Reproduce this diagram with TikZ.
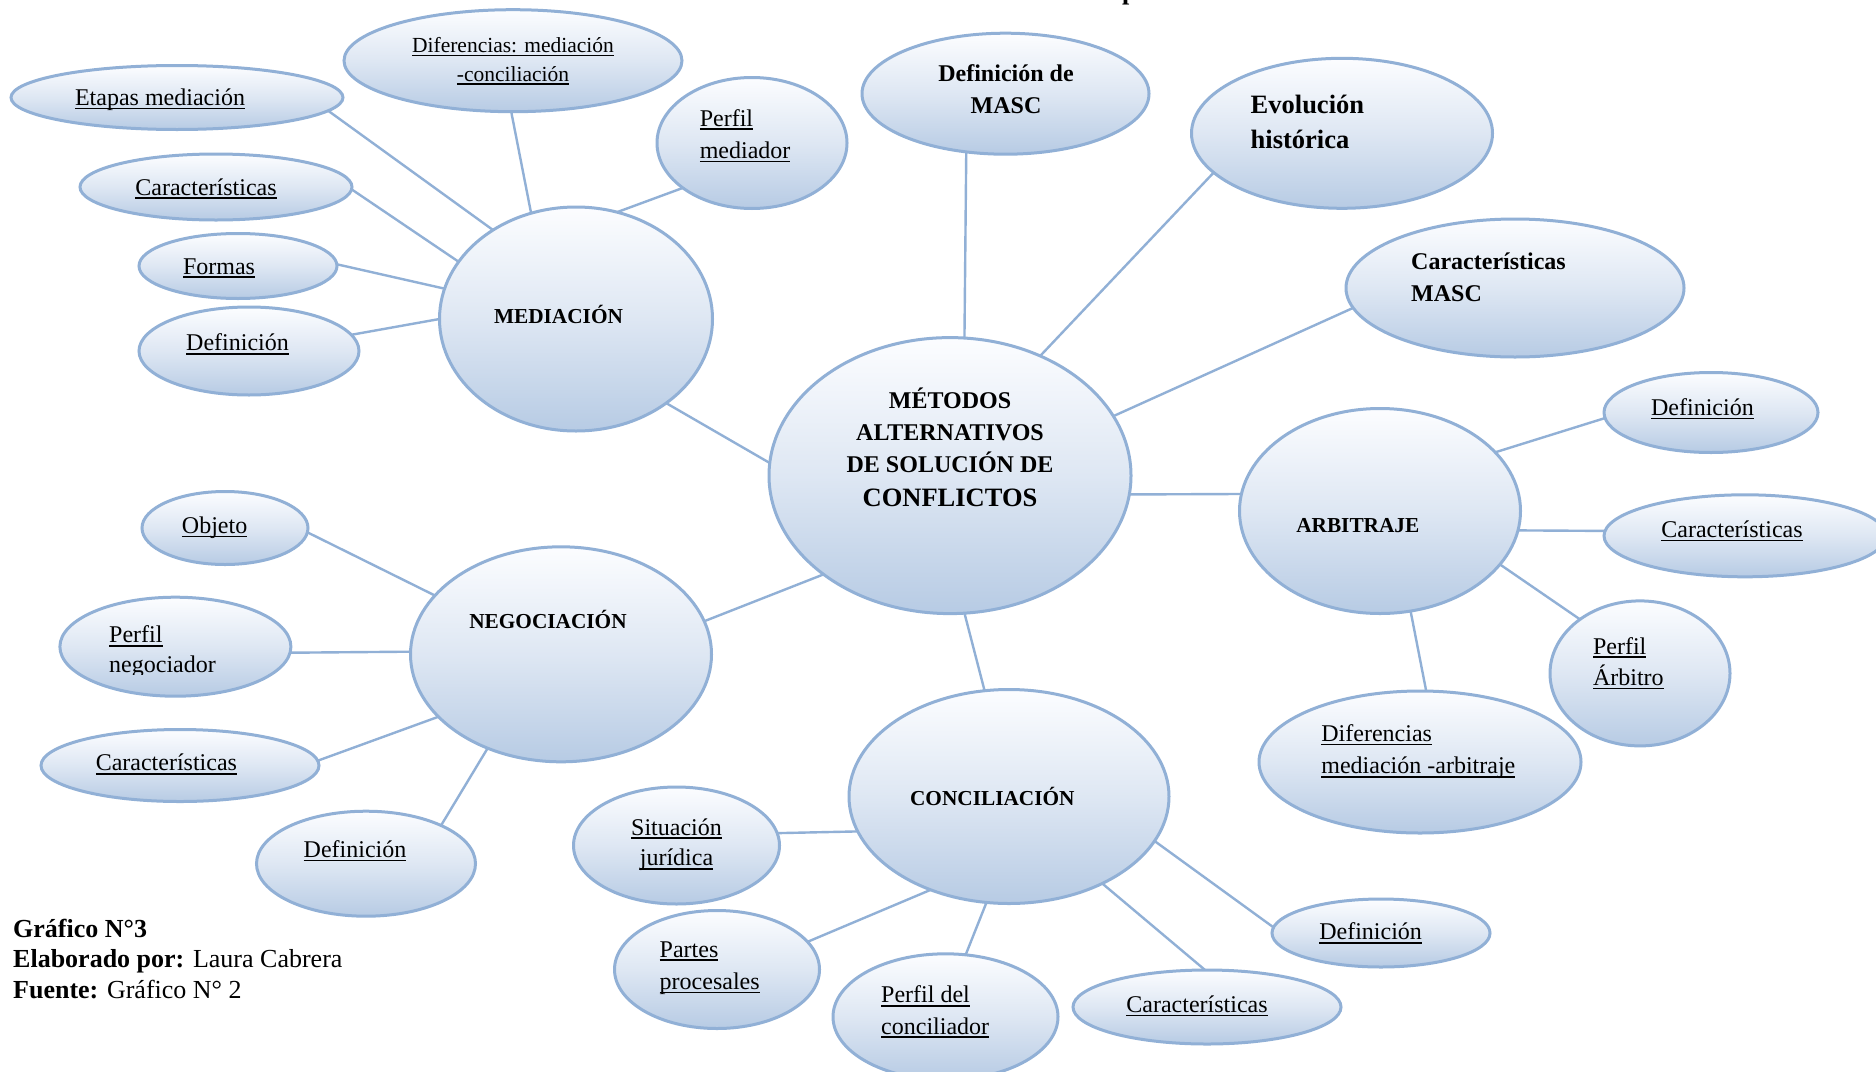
\documentclass[tikz,border=0pt]{standalone}
\usepackage{fontspec}
\setmainfont{Liberation Serif}
\usetikzlibrary{shapes.geometric}
\definecolor{bborder}{RGB}{145,176,214}
\definecolor{btop}{RGB}{252,253,255}
\definecolor{bmid}{RGB}{222,231,243}
\definecolor{bbot}{RGB}{183,203,228}
\newsavebox\ulbox
\newcommand\ulx[1]{\sbox\ulbox{#1}\rlap{\rule[-4pt]{\wd\ulbox}{1.8pt}}\usebox\ulbox}
\newcommand\sz[2]{\fontsize{#1}{#2}\selectfont}
\newcommand\mlines[2]{\begin{tabular}[t]{@{}#1@{}}#2\end{tabular}}
\begin{document}
\begin{tikzpicture}[x=1pt,y=-1pt,
  bub/.style={ellipse, draw=bborder, line width=3pt, top color=btop, bottom color=bbot, middle color=bmid, inner sep=0pt, outer sep=0pt},
  conn/.style={draw=bborder, line width=2.4pt},
  lab/.style={inner sep=0pt, font=\sz{24}{32}},
  blab/.style={inner sep=0pt, font=\sz{21.3}{32}\bfseries}]
\useasboundingbox (0,0) rectangle (1876,1071);
\fill[white] (0,0) rectangle (1876,1071);

% title remnant
\node[inner sep=0pt, anchor=base west, font=\sz{26}{30}\bfseries] (ttl) at (1122,-1) {p};

% bubbles
\node[bub, minimum width=332pt, minimum height=64pt] (etapas) at (177,97.5) {};
\node[bub, minimum width=338pt, minimum height=102pt] (difmc) at (513,60.7) {};
\node[bub, minimum width=190pt, minimum height=131pt] (perfmed) at (752,143) {};
\node[bub, minimum width=272pt, minimum height=66pt] (carmed) at (216,187) {};
\node[bub, minimum width=198pt, minimum height=65pt] (formas) at (238,266) {};
\node[bub, minimum width=220pt, minimum height=88pt] (defmed) at (249,351) {};
\node[bub, minimum width=273pt, minimum height=224pt] (med) at (576,319) {};
\node[bub, minimum width=287pt, minimum height=121pt] (defmasc) at (1005.5,93.7) {};
\node[bub, minimum width=301pt, minimum height=150pt] (evol) at (1342,133.3) {};
\node[bub, minimum width=338pt, minimum height=138pt] (carmasc) at (1515,288) {};
\node[bub, minimum width=362pt, minimum height=276pt] (main) at (950,475.6) {};
\node[bub, minimum width=281pt, minimum height=205pt] (arb) at (1380,511) {};
\node[bub, minimum width=214pt, minimum height=80pt] (defarb) at (1711,412.5) {};
\node[bub, minimum width=282pt, minimum height=82pt] (cararb) at (1745,535.8) {};
\node[bub, minimum width=180pt, minimum height=145pt] (perfarb) at (1640,673.4) {};
\node[bub, minimum width=322pt, minimum height=142pt] (difarb) at (1420,762) {};
\node[bub, minimum width=320pt, minimum height=214pt] (conc) at (1009,796.5) {};
\node[bub, minimum width=218pt, minimum height=68pt] (defconc) at (1381,933) {};
\node[bub, minimum width=268pt, minimum height=74pt] (carconc) at (1207,1007) {};
\node[bub, minimum width=225pt, minimum height=126pt] (perfconc) at (945.5,1016.8) {};
\node[bub, minimum width=205pt, minimum height=118pt] (partes) at (717,969.5) {};
\node[bub, minimum width=206pt, minimum height=117pt] (sit) at (676.5,845.5) {};
\node[bub, minimum width=301pt, minimum height=215pt] (neg) at (561,654.3) {};
\node[bub, minimum width=166pt, minimum height=73pt] (objeto) at (225,528) {};
\node[bub, minimum width=231pt, minimum height=99pt] (perfneg) at (175.4,646.7) {};
\node[bub, minimum width=278pt, minimum height=72pt] (carneg) at (180,765.5) {};
\node[bub, minimum width=219pt, minimum height=105pt] (defneg) at (366,863.7) {};

% connectors
\draw[conn] (main.84) -- (defmasc.236);
\draw[conn] (main.53) -- (evol.197);
\draw[conn] (main.20) -- (carmasc.187);
\draw[conn] (main.-6) -- (arb.173);
\draw[conn] (main.-84) -- (conc.103);
\draw[conn] (main.218) -- (neg.13);
\draw[conn] (main.176) -- (med.-43);
\draw[conn] (med.133) -- (etapas.-5);
\draw[conn] (med.113) -- (difmc.268);
\draw[conn] (med.69) -- (perfmed.213);
\draw[conn] (med.154) -- (carmed.-1);
\draw[conn] (med.167) -- (formas.1);
\draw[conn] (med.180) -- (defmed.9);
\draw[conn] (neg.155) -- (objeto.-3);
\draw[conn] (neg.179) -- (perfneg.-3);
\draw[conn] (neg.207) -- (carneg.2);
\draw[conn] (neg.232) -- (defneg.27);
\draw[conn] (arb.27) -- (defarb.183);
\draw[conn] (arb.-8) -- (cararb.178);
\draw[conn] (arb.-24) -- (perfarb.138);
\draw[conn] (arb.-73) -- (difarb.85);
\draw[conn] (conc.193) -- (sit.7);
\draw[conn] (conc.230) -- (partes.17);
\draw[conn] (conc.258) -- (perfconc.72);
\draw[conn] (conc.-43) -- (carconc.93);
\draw[conn] (conc.-17) -- (defconc.177);

% labels
\node[lab, anchor=base] (tEtapas) at (160,105.3) {\ulx{Etapas mediación}};
\node[lab, anchor=base, font=\sz{21.5}{28.7}] (tDifmc) at (513,52.3) {\mlines{c}{\ulx{Diferencias: mediación}\\\ulx{-conciliación}}};
\node[lab, anchor=base west, font=\sz{24}{32.3}] (tPerfmed) at (699.6,126) {\mlines{l}{\ulx{Perfil}\\\ulx{mediador}}};
\node[lab, anchor=base] (tCarmed) at (206,195) {\ulx{Características}};
\node[lab, anchor=base] (tFormas) at (219,274) {\ulx{Formas}};
\node[lab, anchor=base] (tDefmed) at (237.5,350.7) {\ulx{Definición}};
\node[blab, anchor=base] (tMed) at (558.5,323.3) {MEDIACIÓN};
\node[lab, anchor=base, font=\sz{24}{31.6}\bfseries] (tDefmasc) at (1006,81.7) {\mlines{c}{Definición de\\MASC}};
\node[lab, anchor=base west, font=\sz{26.5}{35}\bfseries] (tEvol) at (1250.5,113.3) {\mlines{l}{Evolución\\histórica}};
\node[lab, anchor=base west, font=\sz{24}{31.7}\bfseries] (tCarmasc) at (1411,269.3) {\mlines{l}{Características\\MASC}};
\node[lab, anchor=base, font=\sz{24}{32}\bfseries] (tMain) at (950,408.6) {\mlines{c}{MÉTODOS\\ALTERNATIVOS\\DE SOLUCIÓN DE\\[2pt]{\sz{26.5}{32}\bfseries CONFLICTOS}}};
\node[blab, anchor=base] (tArb) at (1357.8,532) {ARBITRAJE};
\node[lab, anchor=base] (tDefarb) at (1702.4,415.3) {\ulx{Definición}};
\node[lab, anchor=base] (tCararb) at (1732,537.3) {\ulx{Características}};
\node[lab, anchor=base west, font=\sz{24}{31.4}] (tPerfarb) at (1592.8,654) {\mlines{l}{\ulx{Perfil}\\\ulx{Árbitro}}};
\node[lab, anchor=base west, font=\sz{24}{32.2}] (tDifarb) at (1321.2,741.4) {\mlines{l}{\ulx{Diferencias}\\\ulx{mediación -arbitraje}}};
\node[blab, anchor=base] (tConc) at (992.3,805.3) {CONCILIACIÓN};
\node[lab, anchor=base] (tDefconc) at (1370.6,939.7) {\ulx{Definición}};
\node[lab, anchor=base] (tCarconc) at (1197,1012.4) {\ulx{Características}};
\node[lab, anchor=base west, font=\sz{24}{31.3}] (tPerfconc) at (881,1002.7) {\mlines{l}{\ulx{Perfil del}\\\ulx{conciliador}}};
\node[lab, anchor=base west, font=\sz{24}{32.2}] (tPartes) at (659.5,957.1) {\mlines{l}{\ulx{Partes}\\\ulx{procesales}}};
\node[lab, anchor=base, font=\sz{24}{30.6}] (tSit) at (676.5,835.2) {\mlines{c}{\ulx{Situación}\\\ulx{jurídica}}};
\node[blab, anchor=base] (tNeg) at (548,628.3) {NEGOCIACIÓN};
\node[lab, anchor=base] (tObjeto) at (214.6,533.4) {\ulx{Objeto}};
\begin{scope}
\clip (40,590) rectangle (300,674);
\node[lab, anchor=base west, font=\sz{24}{30}] (tPerfneg) at (109,642.7) {\mlines{l}{\ulx{Perfil}\\\ulx{negociador}}};
\end{scope}
\node[lab, anchor=base] (tCarneg) at (166.4,770.8) {\ulx{Características}};
\node[lab, anchor=base] (tDefneg) at (355,857.3) {\ulx{Definición}};

% caption
\node[inner sep=0pt, anchor=base west, font=\sz{26}{30.5}] (caption) at (13,937.3) {\mlines{l}{\textbf{Gráfico N°3}\\\textbf{Elaborado por:} Laura Cabrera\\\textbf{Fuente:} Gráfico N° 2}};
\end{tikzpicture}
\end{document}
